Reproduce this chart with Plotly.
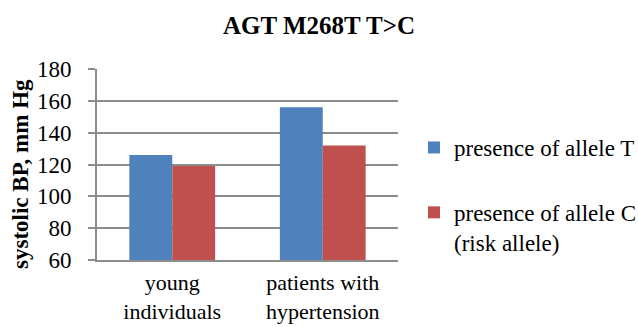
import plotly.graph_objects as go

categories = ["young<br>individuals", "patients with<br>hypertension"]
allele_t = [126, 156]
allele_c = [119, 132]
series_names = ["presence of allele T", "presence of allele C<br>(risk allele)"]
y_ticks = [60, 80, 100, 120, 140, 160, 180]

FONT = "Times New Roman"
GRID = "#8c8c8c"
W, H = 638, 327
L, R, T, B = 97, 240, 69, 67
PW, PH = W - L - R, H - T - B

fig = go.Figure()
fig.add_trace(go.Bar(x=categories, y=allele_t, name=series_names[0],
                     marker=dict(color="#4F81BD", line=dict(width=0)),
                     legendgroup="t"))
fig.add_trace(go.Bar(x=categories, y=allele_c, name=series_names[1],
                     marker=dict(color="#C0504D", line=dict(width=0)),
                     legendgroup="c"))

fig.update_layout(
    width=W, height=H,
    margin=dict(l=L, r=R, t=T, b=B, autoexpand=False),
    paper_bgcolor="white", plot_bgcolor="white",
    barmode="group", bargap=0.43, bargroupgap=0,
    font=dict(family=FONT, size=23, color="black"),
    title=dict(text="<b>AGT M268T T>C</b>", x=0.5, xref="container", xanchor="center",
               y=1 - 25 / H, yref="container", yanchor="middle",
               font=dict(family=FONT, size=25, color="black")),
    legend=dict(x=414 / W, xref="container", y=1 - 126 / H, yref="container",
                xanchor="left", yanchor="top",
                font=dict(family=FONT, size=23), tracegroupgap=32, valign="top",
                itemwidth=30, bgcolor="rgba(0,0,0,0)"),
    showlegend=True,
)

fig.update_xaxes(showgrid=False, showline=True, linecolor=GRID, linewidth=2,
                 ticks="", tickfont=dict(family=FONT, size=22), ticklabelstandoff=2,
                 fixedrange=True)
fig.update_yaxes(range=[60, 180], tickvals=y_ticks, showgrid=True, gridcolor=GRID, gridwidth=2,
                 showline=True, linecolor=GRID, linewidth=2, ticks="outside", ticklen=7,
                 tickcolor=GRID, tickwidth=2, ticklabelstandoff=12,
                 tickfont=dict(family=FONT, size=23), zeroline=False)

# rotated y-axis title, set slightly below the plot's vertical centre
fig.add_annotation(text="<b>systolic BP, mm Hg</b>", textangle=-90,
                   x=(20 - L) / PW, y=(H - B - 174) / PH, xref="paper", yref="paper",
                   xanchor="center", yanchor="middle",
                   showarrow=False, font=dict(family=FONT, size=23))

fig.write_html("out.html")
